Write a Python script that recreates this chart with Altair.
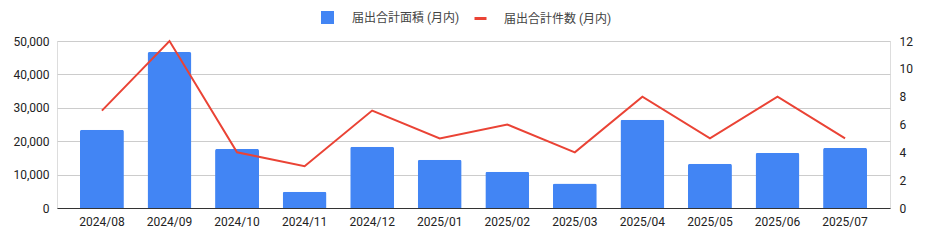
import altair as alt
import pandas as pd

months = ["2024/08", "2024/09", "2024/10", "2024/11", "2024/12", "2025/01",
          "2025/02", "2025/03", "2025/04", "2025/05", "2025/06", "2025/07"]
area = [23400, 46700, 17700, 4900, 18350, 14450, 10850, 7300, 26400, 13250, 16500, 18000]
count = [7, 12, 4, 3, 7, 5, 6, 4, 8, 5, 8, 5]
area_name = "届出合計面積 (月内)"
count_name = "届出合計件数 (月内)"

df = pd.DataFrame({"month": months, "area": area, "count": count,
                   "s1": area_name, "s2": count_name})

FONT = "Roboto, 'Noto Sans CJK JP', sans-serif"

x = alt.X("month:N", sort=months, title=None,
          scale=alt.Scale(paddingInner=0.35, paddingOuter=0.34),
          axis=alt.Axis(labelAngle=0, ticks=False, domain=True, domainColor="#333333",
                        labelPadding=8, labelFontSize=12, labelColor="#222222", grid=False))

bars = alt.Chart(df).mark_bar(cornerRadiusTopLeft=2, cornerRadiusTopRight=2).encode(
    x=x,
    y=alt.Y("area:Q", title=None,
            scale=alt.Scale(domain=[0, 50000], nice=False),
            axis=alt.Axis(values=[0, 10000, 20000, 30000, 40000, 50000], format=",.0f",
                          ticks=False, domain=False, labelPadding=8, labelFontSize=12,
                          labelColor="#222222", grid=True, gridColor="#cccccc",
                          orient="left")),
    fill=alt.Fill("s1:N", scale=alt.Scale(domain=[area_name], range=["#4285F4"]),
                  legend=alt.Legend(title=None, orient="none", legendX=264, legendY=-30,
                                    symbolType="square", symbolSize=169,
                                    symbolStrokeWidth=0, labelOffset=18,
                                    labelFontSize=12, labelColor="#444444",
                                    labelFont=FONT)),
)

line = alt.Chart(df).mark_line(strokeWidth=2).encode(
    x=x,
    y=alt.Y("count:Q", title=None,
            scale=alt.Scale(domain=[0, 12], nice=False),
            axis=alt.Axis(values=[0, 2, 4, 6, 8, 10, 12], ticks=False, domain=False,
                          labelPadding=9, labelFontSize=12, labelColor="#222222",
                          grid=False, orient="right")),
    stroke=alt.Stroke("s2:N", scale=alt.Scale(domain=[count_name], range=["#EA4335"]),
                      legend=alt.Legend(title=None, orient="none", legendX=416, legendY=-30,
                                        symbolType="stroke", symbolSize=144,
                                        symbolStrokeWidth=3, labelOffset=16,
                                        labelFontSize=12, labelColor="#444444",
                                        labelFont=FONT)),
)

chart = alt.layer(bars, line).resolve_scale(y="independent", fill="independent",
                                            stroke="independent").properties(
    width=833, height=167,
    padding={"left": 57, "top": 41, "right": 41, "bottom": 33},
    autosize=alt.AutoSizeParams(type="none"),
).configure_view(stroke=None).configure_axis(labelFont=FONT).configure(font=FONT)

chart.save("out.html", embed_options={"renderer": "svg", "actions": False})
